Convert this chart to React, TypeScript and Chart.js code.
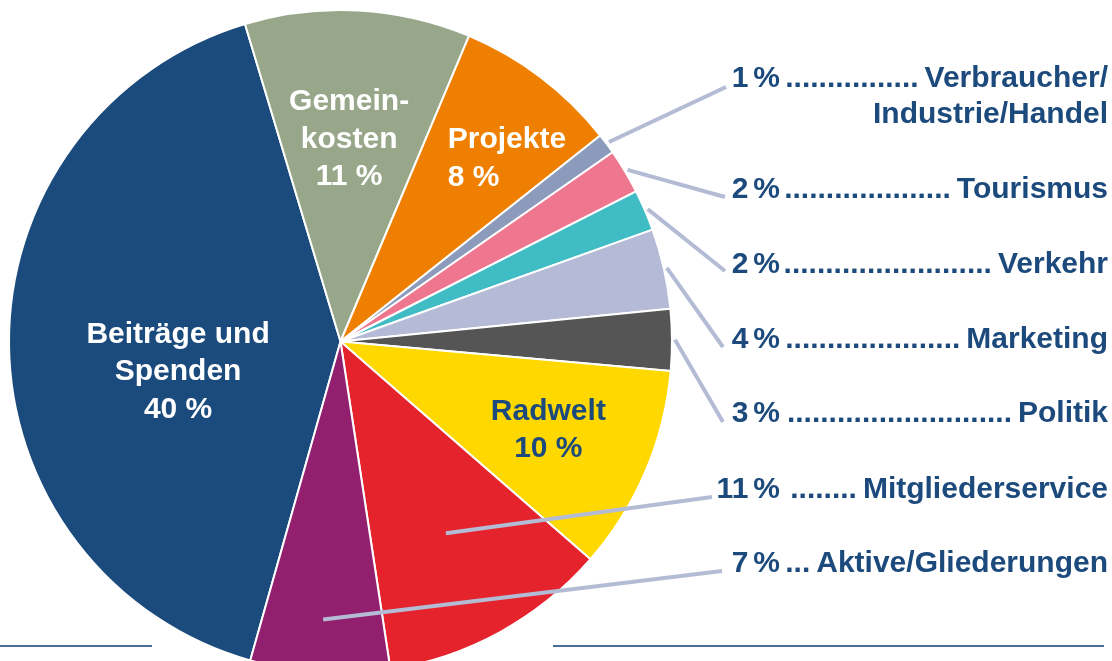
import { useEffect, useRef } from "react";
import { Chart, registerables } from "chart.js";

Chart.register(...registerables);

// ---- data ----
const categories = [
  "Beiträge und Spenden",
  "Gemeinkosten",
  "Projekte",
  "Verbraucher/Industrie/Handel",
  "Tourismus",
  "Verkehr",
  "Marketing",
  "Politik",
  "Radwelt",
  "Mitgliederservice",
  "Aktive/Gliederungen",
];
const shares = [41.0, 11.0, 8.0, 1.0, 2.2, 2.0, 3.9, 3.0, 10.0, 11.2, 6.8];
const percentLabels = ["40 %", "11 %", "8 %", "1 %", "2 %", "2 %", "4 %", "3 %", "10 %", "11 %", "7 %"];
const sliceColors = [
  "#1b4b7d",
  "#98a789",
  "#ef7f00",
  "#8c9bbb",
  "#ef768f",
  "#40bcc4",
  "#b5bbd6",
  "#555555",
  "#ffd800",
  "#e4232c",
  "#931f6f",
];

// inner label texts
const innerLabelLines: Record<number, string[]> = {
  0: ["Beiträge und", "Spenden"],
  1: ["Gemein-", "kosten"],
  2: ["Projekte"],
  8: ["Radwelt"],
};
// outer label texts
const outerLabelLines: Record<number, string[]> = {
  3: ["Verbraucher/", "Industrie/Handel"],
  4: ["Tourismus"],
  5: ["Verkehr"],
  6: ["Marketing"],
  7: ["Politik"],
  9: ["Mitgliederservice"],
  10: ["Aktive/Gliederungen"],
};

// ---- layout / style ----
const TEXT_BLUE = "#1c4a7c";
const LEADER = "#b4bbd4";
const FONT = "bold 30px 'Liberation Sans', Arial, Helvetica, sans-serif";
const LINE_H = 37.5;

const innerLayout: Record<number, { shift: number; rFrac: number; align: CanvasTextAlign; color: string }> = {
  0: { shift: 0, rFrac: 0.49, align: "center", color: "#ffffff" },
  1: { shift: -0.9, rFrac: 0.698, align: "center", color: "#ffffff" },
  2: { shift: -8.2, rFrac: 0.667, align: "left", color: "#ffffff" },
  8: { shift: -2.45, rFrac: 0.67, align: "center", color: TEXT_BLUE },
};

const outerLayout: Record<number, { baseline: number; startR: number; inner: boolean; endX: number; endY: number; dotGap: number }> = {
  3: { baseline: 87, startR: 3, inner: false, endX: 726, endY: 87, dotGap: 4 },
  4: { baseline: 198, startR: 3, inner: false, endX: 725, endY: 197, dotGap: 4 },
  5: { baseline: 273, startR: 3, inner: false, endX: 725, endY: 271, dotGap: 4 },
  6: { baseline: 348, startR: 3, inner: false, endX: 723, endY: 347, dotGap: 4 },
  7: { baseline: 422, startR: 3, inner: false, endX: 723, endY: 422, dotGap: 8 },
  9: { baseline: 498, startR: 0.66, inner: true, endX: 712, endY: 497, dotGap: 8 },
  10: { baseline: 572, startR: 0.84, inner: true, endX: 722, endY: 571, dotGap: 4 },
};
const PCT_RIGHT = 780;
const NAME_RIGHT = 1108;

const labelPlugin = {
  id: "pieLabels",
  beforeDraw(chart: any) {
    const ctx = chart.ctx as CanvasRenderingContext2D;
    ctx.save();
    ctx.strokeStyle = "#4a6d96";
    ctx.lineWidth = 2;
    ctx.beginPath();
    ctx.moveTo(0, 646);
    ctx.lineTo(152, 646);
    ctx.moveTo(553, 646);
    ctx.lineTo(1104, 646);
    ctx.stroke();
    ctx.restore();
  },
  afterDatasetsDraw(chart: any) {
    const ctx = chart.ctx as CanvasRenderingContext2D;
    const arcs = chart.getDatasetMeta(0).data as any[];
    const cx = arcs[0].x;
    const cy = arcs[0].y;
    const R = arcs[0].outerRadius;
    const mid = (i: number) => (arcs[i].startAngle + arcs[i].endAngle) / 2;
    ctx.save();
    ctx.font = FONT;
    ctx.textBaseline = "alphabetic";

    // inner labels
    Object.keys(innerLabelLines).forEach((k) => {
      const i = Number(k);
      const lay = innerLayout[i];
      const a = mid(i) + (lay.shift * Math.PI) / 180;
      const x = cx + R * lay.rFrac * Math.cos(a);
      const y = cy + R * lay.rFrac * Math.sin(a);
      const lines = [...innerLabelLines[i], percentLabels[i]];
      ctx.fillStyle = lay.color;
      ctx.textAlign = lay.align;
      lines.forEach((t, j) => ctx.fillText(t, x, y + j * LINE_H));
    });

    // outer labels with leader lines
    const dotW = ctx.measureText(".").width;
    const pctW = ctx.measureText("%").width;
    Object.keys(outerLabelLines).forEach((k) => {
      const i = Number(k);
      const lay = outerLayout[i];
      const a = mid(i);
      const r = lay.inner ? R * lay.startR : R + lay.startR;
      const sx = cx + r * Math.cos(a);
      const sy = cy + r * Math.sin(a);
      ctx.strokeStyle = LEADER;
      ctx.lineWidth = 4;
      ctx.beginPath();
      ctx.moveTo(sx, sy);
      ctx.lineTo(lay.endX, lay.endY);
      ctx.stroke();

      ctx.fillStyle = TEXT_BLUE;
      const [num, sign] = percentLabels[i].split(" ");
      ctx.textAlign = "right";
      ctx.fillText(sign, PCT_RIGHT, lay.baseline);
      ctx.fillText(num, PCT_RIGHT - pctW - 5, lay.baseline);
      const names = outerLabelLines[i];
      ctx.fillText(names[0], NAME_RIGHT, lay.baseline);
      const nameLeft = NAME_RIGHT - ctx.measureText(names[0]).width;
      const dotEnd = nameLeft - 6;
      const dotStart = PCT_RIGHT + lay.dotGap;
      const n = Math.max(0, Math.round((dotEnd - dotStart) / dotW));
      ctx.fillText(".".repeat(n), dotEnd, lay.baseline);
      for (let j = 1; j < names.length; j++) {
        ctx.fillText(names[j], NAME_RIGHT, lay.baseline + j * 36);
      }
    });
    ctx.restore();
  },
};

export default function App() {
  const ref = useRef<HTMLCanvasElement | null>(null);
  useEffect(() => {
    if (!ref.current) return;
    const chart = new Chart(ref.current, {
      type: "pie",
      data: {
        labels: categories,
        datasets: [
          {
            data: shares,
            backgroundColor: sliceColors,
            borderColor: "#ffffff",
            borderWidth: 2,
          },
        ],
      },
      options: {
        responsive: false,
        animation: false,
        devicePixelRatio: 1,
        rotation: 195.8,
        layout: { padding: { left: 8, top: 9, right: 439, bottom: 26 } },
        plugins: {
          legend: { display: false },
          tooltip: { enabled: false },
        },
      },
      plugins: [labelPlugin],
    });
    return () => chart.destroy();
  }, []);
  return (
    <div
      style={{
        position: "fixed",
        left: 0,
        top: 0,
        width: 1112,
        height: 661,
        overflow: "hidden",
        background: "#ffffff",
      }}
    >
      <canvas ref={ref} width={1112} height={700} style={{ display: "block" }} />
    </div>
  );
}
